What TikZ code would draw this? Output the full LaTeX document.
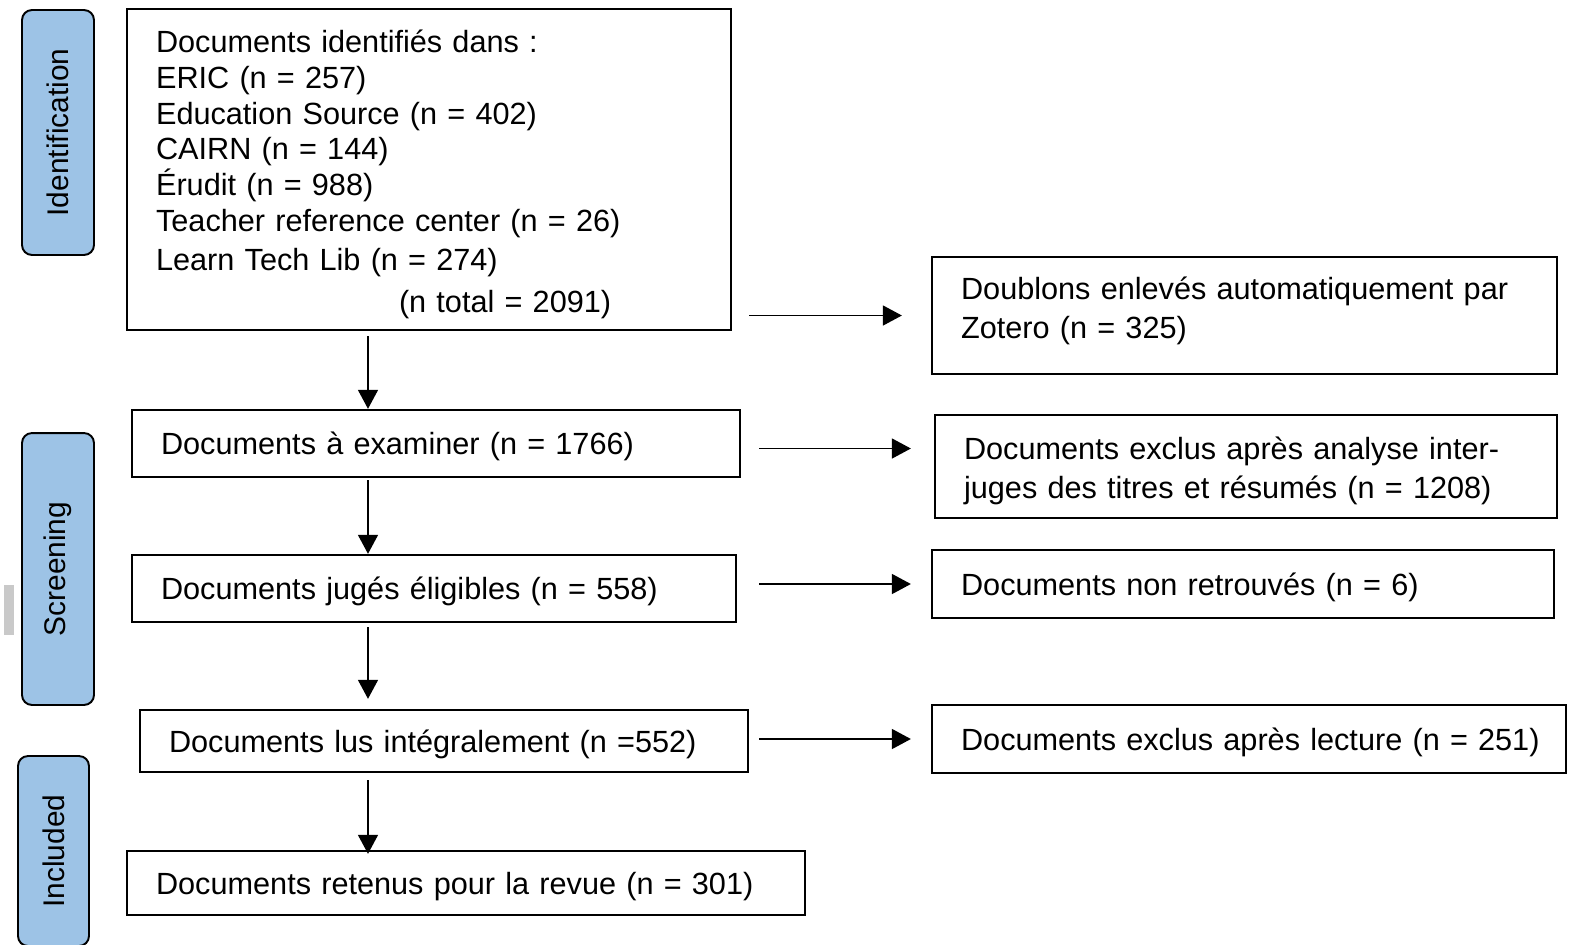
\documentclass[tikz,border=0pt]{standalone}
\usepackage{fontspec}
\setmainfont{Liberation Sans}
\usetikzlibrary{arrows.meta,calc,positioning}

\definecolor{phaseblue}{RGB}{157,195,230}

\begin{document}
\begin{tikzpicture}[x=0.02cm,y=-0.02cm,
  box/.style={draw,line width=1.35pt,inner xsep=0.58cm,inner ysep=0pt,align=left,
    font=\fontsize{17.45}{20.4}\selectfont},
  onebox/.style={box,text depth=0pt},
  phase/.style={draw,line width=1.1pt,fill=phaseblue,rounded corners=0.2cm,rotate=90,
    minimum height=1.44cm,font=\fontsize{17}{19}\selectfont},
  link/.style={-{Triangle[length=0.38cm,width=0.4cm]},line width=0.85pt}]
\useasboundingbox (0,0) rectangle (1572,944);

% phases
\node[phase,minimum width=4.9cm] (ident) at (58,132.5) {Identification};
\node[phase,minimum width=5.44cm] (screen) at (58,569) {Screening};
\node[phase,minimum width=3.8cm,minimum height=1.42cm] (incl) at (53.5,851) {Included};
\fill[black!21] (4,585) rectangle (14,635);

% main column
\node[box,text width=10.92cm,minimum height=6.42cm,text height=0.64cm] (src) at (429,169.5)
  {Documents identifiés dans :\\
   ERIC (n = 257)\\
   Education Source (n = 402)\\
   CAIRN (n = 144)\\
   Érudit (n = 988)\\
   Teacher reference center (n = 26)\\[0.06cm]
   Learn Tech Lib (n = 274)\\[0.12cm]
   \hspace*{4.86cm}(n total = 2091)};
\node[onebox,text width=11cm,minimum height=1.34cm] (exam) at (436,443.5)
  {Documents à examiner (n = 1766)};
\node[onebox,text width=10.92cm,minimum height=1.34cm] (elig) at (434,588.5)
  {Documents jugés éligibles (n = 558)};
\node[onebox,text width=11cm,minimum height=1.24cm] (lus) at (444,741)
  {Documents lus intégralement (n =552)};
\node[onebox,text width=12.4cm,minimum height=1.28cm] (ret) at (466,883)
  {Documents retenus pour la revue (n = 301)};

% exclusions
\node[box,text width=11.34cm,minimum height=2.34cm,text height=0.28cm] (dup) at (1244.5,315.5)
  {\makebox[11.02cm][s]{Doublons enlevés automatiquement par}\\[0.06cm]
   Zotero (n = 325)};
\node[box,text width=11.28cm,minimum height=2.06cm,text height=0.64cm] (excl) at (1246,466.5)
  {Documents exclus après analyse inter-\\[0.06cm]
   juges des titres et résumés (n = 1208)};
\node[onebox,text width=11.28cm,minimum height=1.36cm] (nonret) at (1243,584)
  {Documents non retrouvés (n = 6)};
\node[onebox,text width=11.52cm,minimum height=1.36cm] (lect) at (1249,739)
  {\mbox{Documents exclus après lecture (n = 251)}};

\coordinate (axis) at (368,0);

\draw[link,shorten <=0.1cm] (src.south -| axis) -- (exam.north -| axis);
\draw[link,shorten <=0.04cm] (exam.south -| axis) -- (elig.north -| axis);
\draw[link,shorten <=0.08cm,shorten >=0.2cm] (elig.south -| axis) -- (lus.north -| axis);
\draw[link,shorten <=0.14cm,shorten >=-0.08cm] (lus.south -| axis) -- (ret.north -| axis);

\draw[link,shorten <=0.34cm,shorten >=0.58cm] (src.east |- dup.west) -- (dup.west);
\draw[link,shorten <=0.36cm,shorten >=0.46cm] ([yshift=-0.1cm]exam.east)
  -- ([yshift=-0.1cm]exam.east -| excl.west);
\draw[link,shorten <=0.44cm,shorten >=0.4cm] (elig.east |- nonret.west) -- (nonret.west);
\draw[link,shorten <=0.2cm,shorten >=0.4cm] (lus.east |- lect.west) -- (lect.west);
\end{tikzpicture}
\end{document}
